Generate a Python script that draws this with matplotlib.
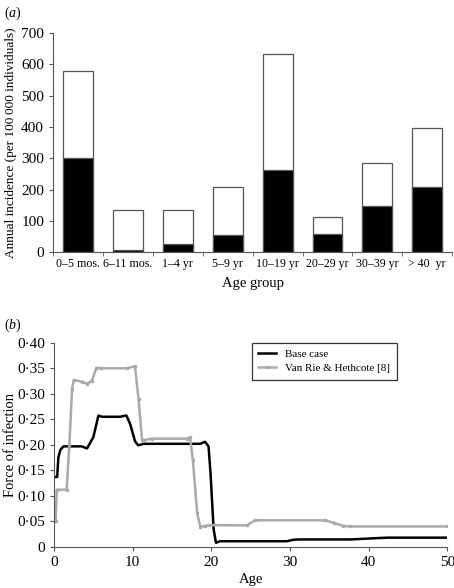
import numpy as np
import matplotlib
matplotlib.use('Agg')
import matplotlib.pyplot as plt

plt.rcParams['font.family'] = ['Liberation Serif', 'DejaVu Serif']
plt.rcParams['mathtext.fontset'] = 'custom'
plt.rcParams['mathtext.rm'] = 'Liberation Serif'
plt.rcParams['mathtext.it'] = 'Liberation Serif:italic'

# panel (a) data
groups = ['0\u20135 mos.', '6\u201311 mos.', '1\u20134 yr', '5\u20139 yr',
          '10\u201319 yr', '20\u201329 yr', '30\u201339 yr', '> 40  yr']
total = [580, 135, 135, 208, 632, 113, 285, 395]
black_part = [300, 8, 25, 55, 262, 57, 148, 207]

# panel (b) data
base_age = [0, 0.4, 0.55, 0.8, 1.2, 3.5, 4.2, 5.0, 5.65, 6.1, 8.4, 9.2, 9.7, 10.3, 10.7,
            11.4, 18.6, 19.2, 19.65, 19.9, 20.3, 20.6, 21.1, 29.6, 30.5, 31.3, 37.7, 41, 42.4, 50]
base_foi = [0.137, 0.137, 0.175, 0.19, 0.197, 0.197, 0.193, 0.215, 0.2575, 0.255, 0.255, 0.2575,
            0.240, 0.207, 0.199, 0.202, 0.202, 0.206, 0.197, 0.145, 0.034, 0.008, 0.011,
            0.011, 0.014, 0.0145, 0.0145, 0.017, 0.018, 0.018]

vr_age = [0, 0.2, 0.35, 1.6, 1.95, 2.3, 2.5, 3.5, 4.2, 4.8, 5.4, 6.0, 9.25, 10.3, 10.75, 11.2,
          11.4, 12.4, 16.9, 17.3, 17.65, 18.2, 18.6, 19.2, 19.7, 24.5, 25.6, 34.5, 35.6, 36.8,
          37.7, 50]
vr_foi = [0.05, 0.05, 0.112, 0.112, 0.20, 0.31, 0.327, 0.324, 0.320, 0.325, 0.351, 0.350,
          0.350, 0.354, 0.289, 0.210, 0.209, 0.212, 0.212, 0.215, 0.171, 0.067, 0.039, 0.041,
          0.0425, 0.042, 0.052, 0.052, 0.047, 0.041, 0.040, 0.040]

fig = plt.figure(figsize=(4.54, 5.88), dpi=100)

# ---- (a) ----
ax1 = fig.add_axes([0.117, 0.571, 0.879, 0.373])
x = np.arange(len(groups))
ax1.bar(x, total, width=0.6, color='white', edgecolor='#555555', linewidth=0.9)
ax1.bar(x, black_part, width=0.6, color='black', edgecolor='#555555', linewidth=0.9)
ax1.set_xlim(-0.5, 7.5)
ax1.set_ylim(0, 700)
ax1.set_yticks(range(0, 701, 100))
ax1.set_xticks(x)
ax1.set_xticklabels(groups, fontsize=8.6)
ax1.set_xticks(np.arange(-0.5, 8, 1), minor=True)
ax1.tick_params(axis='x', which='major', length=0, pad=4)
ax1.tick_params(axis='x', which='minor', length=3, direction='out', color='#555555')
ax1.tick_params(axis='y', labelsize=11, length=3, direction='out', color='#555555')
for s in ['top', 'right']:
    ax1.spines[s].set_visible(False)
for s in ['left', 'bottom']:
    ax1.spines[s].set_color('#555555')
ax1.set_xlabel('Age group', fontsize=10.5, labelpad=5)
ax1.set_ylabel('Annual incidence (per 100\u2009000 individuals)', fontsize=9.5)
ax1.yaxis.set_label_coords(-0.090, 0.5)
fig.text(0.008, 0.992, r'$\mathrm{(}a\mathrm{)}$', fontsize=10, va='top')

# ---- (b) ----
ax2 = fig.add_axes([0.119, 0.070, 0.866, 0.347])
ax2.plot(base_age, base_foi, color='black', lw=1.8, label='Base case')
ax2.plot(vr_age, vr_foi, color='#aaaaaa', lw=1.8, marker='s', markersize=1.8,
         label='Van Rie & Hethcote [8]')
ax2.set_xlim(0, 50)
ax2.set_ylim(0, 0.40)
yt = np.arange(0, 0.401, 0.05)
ax2.set_yticks(yt)
ax2.set_yticklabels(['0'] + [('%.2f' % v).replace('.', '\u00b7') for v in yt[1:]])
ax2.set_xticks(range(0, 51, 10))
ax2.tick_params(labelsize=11, length=3, direction='out', color='#555555')
for s in ['top', 'right']:
    ax2.spines[s].set_visible(False)
for s in ['left', 'bottom']:
    ax2.spines[s].set_color('#555555')
ax2.set_xlabel('Age', fontsize=10.5, labelpad=3)
ax2.set_ylabel('Force of infection', fontsize=10.5)
ax2.yaxis.set_label_coords(-0.094, 0.5)
leg = ax2.legend(loc='upper left', bbox_to_anchor=(0.503, 1.0), fontsize=8,
                 frameon=True, fancybox=False, edgecolor='black', handlelength=1.6,
                 borderpad=0.6, labelspacing=0.35, borderaxespad=0)
leg.get_frame().set_linewidth(0.9)
fig.text(0.008, 0.462, r'$\mathrm{(}b\mathrm{)}$', fontsize=10, va='top')

fig.savefig('out.png', dpi=100)
